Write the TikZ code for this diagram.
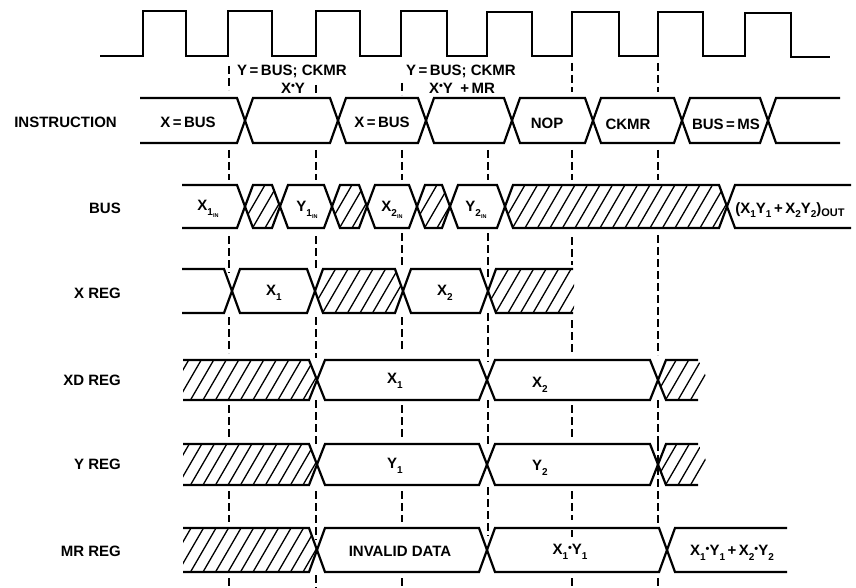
\documentclass[tikz,border=0pt]{standalone}
\usepackage{fontspec}
\setmainfont{Liberation Sans}
\newcommand\lbl{\fontsize{15}{16}\selectfont\bfseries}
\newcommand\sbs[1]{\raisebox{-0.3em}{\fontsize{10}{10}\selectfont\bfseries #1}}
\newcommand\inn[1]{\raisebox{-0.3em}{\fontsize{10}{10}\selectfont\bfseries #1\raisebox{-0.25em}{\fontsize{5.5}{6}\selectfont IN}}}
\newcommand\dotm{\raisebox{0.22em}{\fontsize{11}{11}\selectfont\textbullet}}
\tikzset{
  sig/.style={line width=2.2pt,line join=miter,line cap=butt},
  clk/.style={line width=2pt,line join=miter},
  guide/.style={line width=1.3pt,dash pattern=on 8pt off 4pt},
  hatchline/.style={line width=1.3pt},
  txt/.style={font=\lbl,inner sep=0pt,anchor=center},
  rowname/.style={font=\lbl,inner sep=0pt,anchor=east}
}
\newcommand\eye[4]{\draw[sig] (#1,{(#3+#4)/2}) -- (#1+8,#3) -- (#2-8,#3) -- (#2,{(#3+#4)/2}) -- (#2-8,#4) -- (#1+8,#4) -- cycle;}
\newcommand\openL[4]{\draw[sig] (#1,#3) -- (#2-8,#3) -- (#2,{(#3+#4)/2}) -- (#2-8,#4) -- (#1,#4);}
\newcommand\openR[4]{\draw[sig] (#2,#3) -- (#1+8,#3) -- (#1,{(#3+#4)/2}) -- (#1+8,#4) -- (#2,#4);}
\newcommand\hatchfill[5]{\begin{scope}
  \clip #1;
  \pgfmathsetmacro\hstart{#2-30}
  \pgfmathsetmacro\hnext{\hstart+12.5}
  \pgfmathsetmacro\hend{#3+12}
  \foreach \hx in {\hstart,\hnext,...,\hend}{
    \draw[hatchline] (\hx,#5) -- (\hx+0.58*#5-0.58*#4,#4);
  }
\end{scope}}
\newcommand\hatcheye[4]{\hatchfill{(#1,{(#3+#4)/2}) -- (#1+8,#3) -- (#2-8,#3) -- (#2,{(#3+#4)/2}) -- (#2-8,#4) -- (#1+8,#4) -- cycle}{#1}{#2}{#3}{#4}\eye{#1}{#2}{#3}{#4}}
\newcommand\hatchL[4]{\hatchfill{(#1,#3) -- (#2-8,#3) -- (#2,{(#3+#4)/2}) -- (#2-8,#4) -- (#1,#4) -- cycle}{#1}{#2}{#3}{#4}\openL{#1}{#2}{#3}{#4}}
\newcommand\hatchTail[3]{%
  \hatchfill{(#1,{(#2+#3)/2}) -- (#1+8,#2) -- (698,#2) -- (704,#2+11) -- (709,#2+26) -- (698,#3) -- (#1+8,#3) -- cycle}{#1}{709}{#2}{#3}
  \draw[sig] (698,#2) -- (#1+8,#2) -- (#1,{(#2+#3)/2}) -- (#1+8,#3) -- (698,#3);}
\begin{document}
\begin{tikzpicture}[x=1pt,y=-1pt]
\useasboundingbox (0,0) rectangle (856,588);
% clock
\draw[clk] (100,56) -- (143,56) -- (143,11) -- (186,11) -- (186,56) -- (228,56) -- (228,11) -- (272,11) -- (272,56)
 -- (316,56) -- (316,11) -- (360,11) -- (360,56) -- (401,56) -- (401,11) -- (447,11) -- (447,56) -- (487,56) -- (487,12)
 -- (532,12) -- (532,56) -- (572,56) -- (572,12) -- (619,12) -- (619,56) -- (658,56) -- (658,12) -- (703,12) -- (703,56)
 -- (745,56) -- (745,13) -- (791,13) -- (791,57) -- (830,57);
% guides
\foreach \gx/\ga/\gb in {
 229/66/90, 229/150/180, 229/236/273, 229/317/353, 229/405/438, 229/491/522, 229/578/588,
 316/85/96, 316/150/180, 316/236/268, 316/317/358, 316/400/445, 316/491/540, 316/575/588,
 402/83/95, 402/150/180, 402/233/267, 402/317/352, 402/405/438, 402/491/522, 402/578/588,
 488/150/180, 488/233/277, 488/313/362, 488/400/444, 488/487/536,
 572/63/92, 572/150/180, 572/237/265, 572/320/352, 572/405/438, 572/491/520, 572/530/537, 572/578/588,
 658/63/92, 658/150/180, 658/235/355, 658/400/443, 658/443/525, 658/578/588}{
  \draw[guide] (\gx,\ga) -- (\gx,\gb);
}
% INSTRUCTION
\openL{140}{245}{98}{143}
\eye{245}{338}{98}{143}
\eye{338}{426}{98}{143}
\eye{426}{512}{98}{143}
\eye{512}{593}{98}{143}
\eye{593}{682}{98}{143}
\eye{682}{768}{98}{143}
\openR{768}{840}{98}{143}
% BUS
\openL{182}{245}{185}{228}
\hatcheye{245}{280}{185}{228}
\eye{280}{332}{185}{228}
\hatcheye{332}{367}{185}{228}
\eye{367}{417}{185}{228}
\hatcheye{417}{450}{185}{228}
\eye{450}{505}{185}{228}
\hatcheye{505}{727}{185}{228}
\openR{727}{851}{185}{228}
% X REG
\openL{182}{232}{269}{313}
\eye{232}{315}{269}{313}
\hatcheye{315}{403}{269}{313}
\eye{403}{488}{269}{313}
\hatchfill{(488,291) -- (496,269) -- (574,269) -- (574,313) -- (496,313) -- cycle}{488}{574}{269}{313}
\openR{488}{573}{269}{313}
% XD REG
\hatchL{183}{317}{360}{400}
\eye{317}{487}{360}{400}
\eye{487}{658}{360}{400}
\hatchTail{658}{360}{400}
% Y REG
\hatchL{183}{317}{444}{485}
\eye{317}{487}{444}{485}
\eye{487}{658}{444}{485}
\hatchTail{658}{444}{485}
% MR REG
\hatchL{183}{317}{528}{572}
\eye{317}{487}{528}{572}
\eye{487}{667}{528}{572}
\openR{667}{787}{528}{572}
% row names
\node[rowname] (nInstr) at (117,122) {INSTRUCTION};
\node[rowname] (nBus) at (121,208) {BUS};
\node[rowname] (nX) at (121,293) {X REG};
\node[rowname] (nXD) at (121,380) {XD REG};
\node[rowname] (nY) at (121,464) {Y REG};
\node[rowname] (nMR) at (121,551) {MR REG};
% upper labels
\node[txt] (t1) at (292,71) {Y\,=\,BUS; CKMR};
\node[txt] (t2) at (293,88) {X\dotm Y};
\node[txt] (t3) at (461,71) {Y\,=\,BUS; CKMR};
\node[txt] (t4) at (462,88) {X\dotm Y\enspace+\,MR};
% instruction labels
\node[txt] (i1) at (188,122) {X\,=\,BUS};
\node[txt] (i2) at (382,122) {X\,=\,BUS};
\node[txt] (i3) at (547,123) {NOP};
\node[txt] (i4) at (628,124) {CKMR};
\node[txt] (i5) at (726,124) {BUS\,=\,MS};
% bus labels
\node[txt] (b1) at (208,209) {X\inn{1}};
\node[txt] (b2) at (307,210) {Y\inn{1}};
\node[txt] (b3) at (392,210) {X\inn{2}};
\node[txt] (b4) at (476,210) {Y\inn{2}};
\node[txt] (b5) at (790,210) {(X\sbs{1}Y\sbs{1}\,+\,X\sbs{2}Y\sbs{2})\raisebox{-0.2em}{\fontsize{11}{11}\selectfont OUT}};
% register labels
\node[txt] (x1) at (274,293) {X\sbs{1}};
\node[txt] (x2) at (445,293) {X\sbs{2}};
\node[txt] (xd1) at (395,381) {X\sbs{1}};
\node[txt] (xd2) at (540,385) {X\sbs{2}};
\node[txt] (y1) at (395,466) {Y\sbs{1}};
\node[txt] (y2) at (540,468) {Y\sbs{2}};
\node[txt] (m1) at (400,551) {INVALID DATA};
\node[txt] (m2) at (570,552) {X\sbs{1}\dotm Y\sbs{1}};
\node[txt] (m3) at (732,553) {X\sbs{1}\dotm Y\sbs{1}\,+\,X\sbs{2}\dotm Y\sbs{2}};
\end{tikzpicture}
\end{document}
